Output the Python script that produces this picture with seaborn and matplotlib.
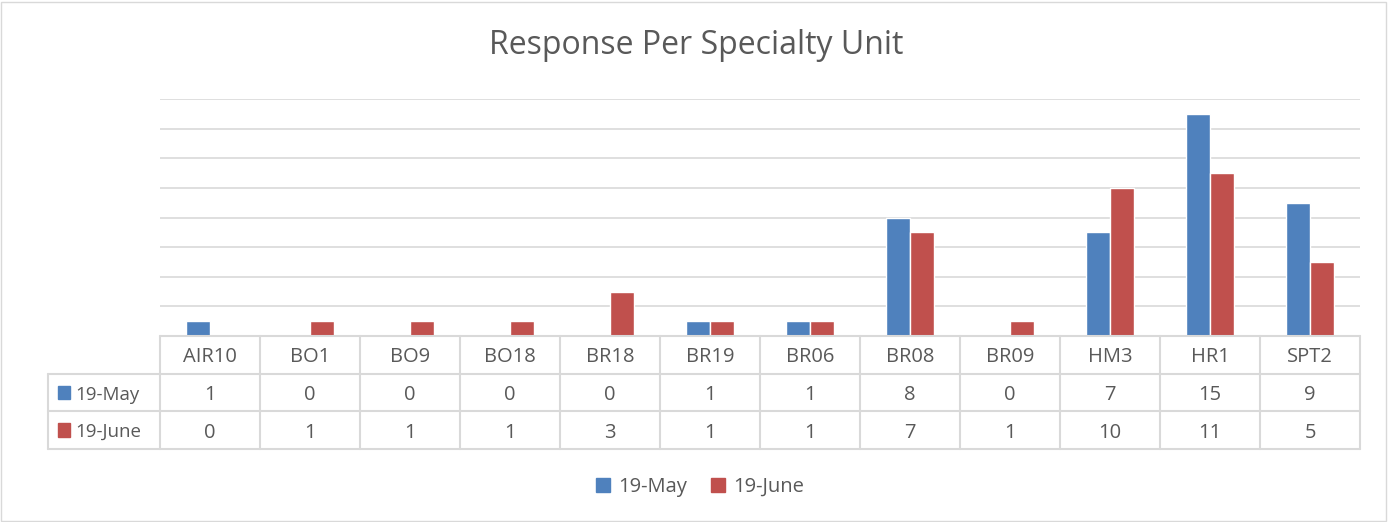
import pandas as pd
import seaborn as sns
import matplotlib.pyplot as plt
from matplotlib.patches import Rectangle

units = ["AIR10", "BO1", "BO9", "BO18", "BR18", "BR19", "BR06", "BR08", "BR09", "HM3", "HR1", "SPT2"]
may = [1, 0, 0, 0, 0, 1, 1, 8, 0, 7, 15, 9]
june = [0, 1, 1, 1, 3, 1, 1, 7, 1, 10, 11, 5]
series = ["19-May", "19-June"]
colors = ["#4F81BD", "#C0504D"]

df = pd.DataFrame({"unit": units * 2,
                   "count": may + june,
                   "month": [series[0]] * len(units) + [series[1]] * len(units)})

sns.set_style("white")
plt.rcParams["font.family"] = ["Open Sans", "DejaVu Sans"]
txt = "#595959"
grid = "#D9D9D9"
fs = 14.5

W, H = 1388, 522
fig = plt.figure(figsize=(W / 100, H / 100), dpi=100)

def px_axes(x0, y0, x1, y1):
    return fig.add_axes([x0 / W, 1 - y1 / H, (x1 - x0) / W, (y1 - y0) / H])

# bar area
ax = px_axes(160, 99, 1360, 336)
sns.barplot(data=df, x="unit", y="count", hue="month", palette=colors,
            width=0.48, gap=0, saturation=1, ax=ax, legend=False)
ax.set_ylim(0, 16)
ax.set_xlim(-0.5, len(units) - 0.5)
ax.set_yticks(range(0, 17, 2))
ax.set_yticklabels([])
ax.set_xticks([])
ax.set_xlabel("")
ax.set_ylabel("")
ax.yaxis.grid(True, color=grid, linewidth=1.2)
ax.set_axisbelow(True)
ax.tick_params(left=False, bottom=False)
for s in ax.spines.values():
    s.set_visible(False)

# data table
tab = px_axes(48, 336, 1360, 449)
n = len(units)
left = -1.12
tab.set_xlim(left - 0.5, n - 0.5)
tab.set_ylim(3, 0)
tab.axis("off")
lc = dict(color=grid, linewidth=1.5, clip_on=False)
tab.plot([-0.5, n - 0.5], [0, 0], **lc)
for y in [1, 2, 3]:
    tab.plot([left - 0.5, n - 0.5], [y, y], **lc)
for i in range(n + 1):
    tab.plot([i - 0.5, i - 0.5], [0, 3], **lc)
tab.plot([left - 0.5, left - 0.5], [1, 3], **lc)
for i, u in enumerate(units):
    tab.text(i, 0.5, u, ha="center", va="center_baseline", fontsize=fs, color=txt)
    tab.text(i, 1.5, str(may[i]), ha="center", va="center_baseline", fontsize=fs, color=txt)
    tab.text(i, 2.5, str(june[i]), ha="center", va="center_baseline", fontsize=fs, color=txt)
for r, (lab, c) in enumerate(zip(series, colors)):
    tab.add_patch(Rectangle((left - 0.4, r + 1.32), 0.12, 0.36, color=c, clip_on=False))
    tab.text(left - 0.23, r + 1.5, lab, ha="left", va="center_baseline", fontsize=13.5, color=txt)

# title
fig.text(696 / W, 1 - 45 / H, "Response Per Specialty Unit", ha="center", va="center",
         fontsize=23, color=txt)

# legend
handles = [Rectangle((0, 0), 1, 1, color=c) for c in colors]
fig.legend(handles, series, loc="center", bbox_to_anchor=(700 / W, 1 - 487 / H),
           ncol=2, frameon=False, fontsize=fs, labelcolor=txt,
           handlelength=0.7, handleheight=0.7, handletextpad=0.4, columnspacing=1.2)

# chart border
fig.patches.append(Rectangle((1 / W, 1 / H), (W - 3) / W, (H - 3) / H, transform=fig.transFigure,
                             fill=False, edgecolor="#D9D9D9", linewidth=1))

fig.savefig("out.png", dpi=100)
